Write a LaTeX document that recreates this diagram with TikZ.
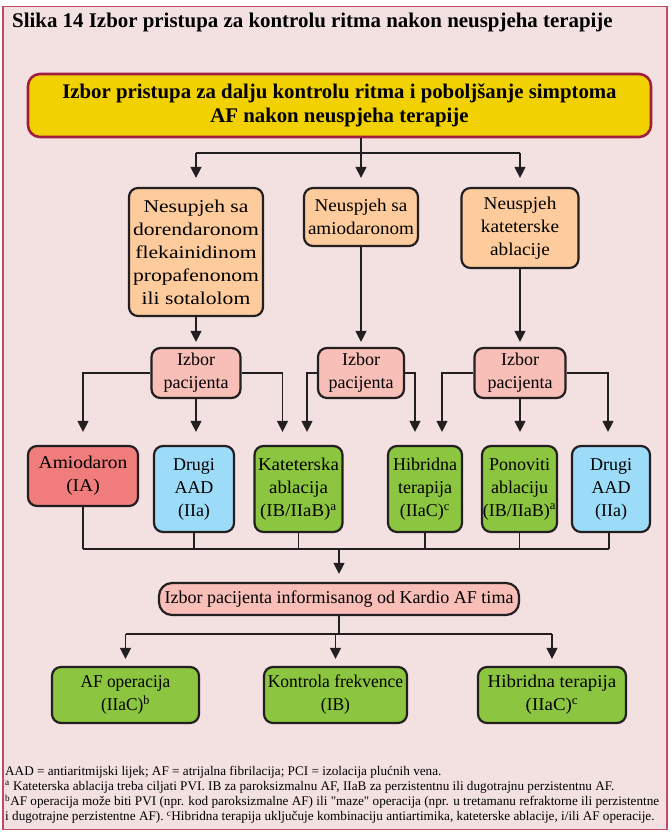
\documentclass[tikz,border=0pt]{standalone}
\usepackage{fontspec}
\setmainfont{Liberation Serif}
\usetikzlibrary{arrows.meta}

\definecolor{pagebg}{HTML}{F3E1E1}
\definecolor{framered}{HTML}{C04A68}
\definecolor{inkline}{HTML}{231F20}
\definecolor{goldfill}{HTML}{F2D100}
\definecolor{goldedge}{HTML}{A21E3E}
\definecolor{orangefill}{HTML}{FDCB9C}
\definecolor{pinkfill}{HTML}{F8BEB8}
\definecolor{redfill}{HTML}{F07C7C}
\definecolor{bluefill}{HTML}{9DDCF9}
\definecolor{greenfill}{HTML}{8CC540}

% box text, optionally widened
\newcommand{\boxfont}[1]{\fontsize{18}{23}\selectfont\addfontfeature{FakeStretch=#1}}

\tikzset{
  box/.style={draw=inkline, line width=2.2pt, rounded corners=9pt, align=center,
    inner sep=0pt, font=\boxfont{1.0}},
  wide/.style={font=\boxfont{#1}},
  headbox/.style={box, draw=goldedge, line width=2.6pt, fill=goldfill, rounded corners=12pt,
    font=\bfseries\fontsize{20.8}{24}\selectfont},
  failbox/.style={box, fill=orangefill},
  choicebox/.style={box, fill=pinkfill},
  redbox/.style={box, fill=redfill},
  bluebox/.style={box, fill=bluefill},
  greenbox/.style={box, fill=greenfill},
  wire/.style={draw=inkline, line width=1.1pt},
  arr/.style={wire, -{Triangle[width=11pt,length=11pt]}},
}

\begin{document}
\begin{tikzpicture}[x=1pt, y=-1pt]
  % page and frame
  \useasboundingbox (0,0) rectangle (670,834);
  \fill[white] (0,0) rectangle (670,834);
  \draw[framered, line width=1.6pt, fill=pagebg] (3,6.5) rectangle (667,829.5);

  % title
  \node[anchor=west, inner sep=0pt, font=\bfseries\fontsize{20.9}{24}\selectfont] (title) at (12,22.5)
    {Slika 14 Izbor pristupa za kontrolu ritma nakon neuspjeha terapije};

  % header
  \node[headbox, minimum width=623pt, minimum height=63pt] (head) at (339.5,105.5)
    {Izbor pristupa za dalju kontrolu ritma i poboljšanje simptoma\\AF nakon neuspjeha terapije};

  % failure boxes
  \node[failbox, wide=1.2, minimum width=134pt, minimum height=128pt] (f1) at (196,252)
    {Nesupjeh sa\\dorendaronom\\flekainidinom\\propafenonom\\ili sotalolom};
  \node[failbox, wide=1.06, minimum width=114pt, minimum height=58pt] (f2) at (361,217)
    {Neuspjeh sa\\amiodaronom};
  \node[failbox, wide=1.07, minimum width=117pt, minimum height=80pt] (f3) at (520,228)
    {Neuspjeh\\kateterske\\ablacije};

  % patient selection boxes
  \node[choicebox, minimum width=89pt, minimum height=50pt] (s1) at (196,373) {Izbor\\pacijenta};
  \node[choicebox, minimum width=86pt, minimum height=50pt] (s2) at (361,373) {Izbor\\pacijenta};
  \node[choicebox, minimum width=91pt, minimum height=50pt] (s3) at (520,373) {Izbor\\pacijenta};

  % options
  \node[redbox, wide=1.08, minimum width=110pt, minimum height=60pt] (amio) at (83,476) {Amiodaron\\(IA)};
  \node[bluebox, minimum width=80pt, minimum height=86pt] (aad1) at (194,489) {Drugi\\AAD\\(IIa)};
  \node[greenbox, wide=1.05, minimum width=88pt, minimum height=86pt] (kat) at (298.5,489)
    {Kateterska\\ablacija\\(IB/IIaB)\textsuperscript{a}};
  \node[greenbox, minimum width=74pt, minimum height=86pt] (hib) at (425,489)
    {Hibridna\\terapija\\(IIaC)\textsuperscript{c}};
  \node[greenbox, minimum width=75pt, minimum height=86pt] (pon) at (519.5,489)
    {Ponoviti\\ablaciju\\(IB/IIaB)\textsuperscript{a}};
  \node[bluebox, minimum width=78pt, minimum height=86pt] (aad2) at (611,489) {Drugi\\AAD\\(IIa)};

  % team decision
  \node[choicebox, rounded corners=13pt, minimum width=360pt, minimum height=32pt] (team) at (339,599)
    {Izbor pacijenta informisanog od Kardio AF tima};

  % final options
  \node[greenbox, wide=0.96, minimum width=147pt, minimum height=56pt] (surg) at (125.5,695)
    {AF operacija\\(IIaC)\textsuperscript{b}};
  \node[greenbox, wide=0.97, minimum width=143pt, minimum height=56pt] (rate) at (335.5,695)
    {Kontrola frekvence\\(IB)};
  \node[greenbox, wide=1.05, minimum width=148pt, minimum height=56pt] (hyb) at (552,695)
    {Hibridna terapija\\(IIaC)\textsuperscript{c}};

  % header to failure boxes
  \coordinate (split1) at (0,153);
  \draw[wire] (f2 |- head.south) -- (f2 |- split1);
  \draw[wire] (f1 |- split1) -- (f3 |- split1);
  \foreach \n in {f1,f2,f3} \draw[arr, shorten >=9pt] (\n |- split1) -- (\n.north);

  % failure boxes to selection
  \foreach \a/\b in {f1/s1,f2/s2,f3/s3} \draw[arr, shorten >=5pt] (\a.south) -- (\b.north);

  % selection to options
  \draw[arr, shorten >=13pt] (s1.west) -| (amio.north);
  \draw[arr, shorten >=13pt] (s1.south) -- (s1.south |- aad1.north);
  \draw[arr, shorten >=13pt] (s1.east) -| ([xshift=-16pt]kat.north);
  \draw[arr, shorten >=13pt] (s2.west) -| ([xshift=8.5pt]kat.north);
  \draw[arr, shorten >=13pt] (s2.east) -| ([xshift=-10pt]hib.north);
  \draw[arr, shorten >=13pt] (s3.west) -| ([xshift=17pt]hib.north);
  \draw[arr, shorten >=13pt] (s3.south) -- (s3.south |- pon.north);
  \draw[arr, shorten >=13pt] (s3.east) -| ([xshift=-3pt]aad2.north);

  % options gathered to team decision
  \coordinate (merge) at (0,549);
  \foreach \n in {amio,aad1,kat,hib,pon} \draw[wire] (\n.south) -- (\n |- merge);
  \draw[wire] ([xshift=-2pt]aad2.south) -- ([xshift=-2pt]aad2.south |- merge);
  \draw[wire] (amio |- merge) -- ([xshift=-2pt]aad2 |- merge);
  \draw[arr, shorten >=8pt] (team |- merge) -- (team.north);

  % team decision to final options
  \coordinate (split2) at (0,634);
  \draw[wire] (team.south) -- (team |- split2);
  \draw[wire] (surg |- split2) -- (hyb |- split2);
  \foreach \n in {surg,rate,hyb} \draw[arr, shorten >=7pt] (\n |- split2) -- (\n.north);

  % footnotes
  \node[anchor=north west, inner sep=0pt, align=left, font=\fontsize{13.2}{15.2}\selectfont] (notes) at (5,765.5)
    {AAD = antiaritmijski lijek; AF = atrijalna fibrilacija; PCI = izolacija plućnih vena.\\
     \textsuperscript{a} Kateterska ablacija treba ciljati PVI. IB za paroksizmalnu AF, IIaB za perzistentnu ili dugotrajnu perzistentnu AF.\\
     \textsuperscript{b}AF operacija može biti PVI (npr. kod paroksizmalne AF) ili \textquotedbl maze\textquotedbl{} operacija (npr. u tretamanu refraktorne ili perzistentne\\
     i dugotrajne perzistentne AF). \textsuperscript{c}Hibridna terapija uključuje kombinaciju antiartimika, kateterske ablacije, i/ili AF operacije.};
\end{tikzpicture}
\end{document}
